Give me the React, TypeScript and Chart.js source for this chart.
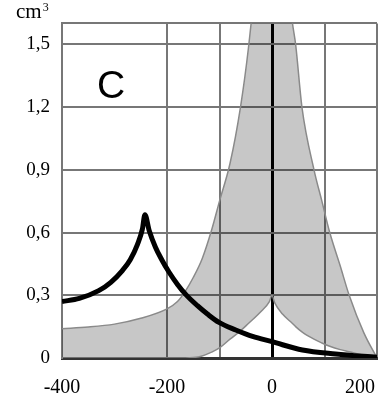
import React, { useEffect, useRef } from 'react';
import { Chart, registerables } from 'chart.js';

Chart.register(...registerables);

// x positions shared by the two gray boundary curves
const X_SHADE = [-400, -350, -300, -250, -200, -180, -165, -150, -133, -115, -100, -80, -60, -45, -20, -5, 0, 5, 20, 39, 45, 57, 80, 95, 110, 130, 147, 175, 200];
const UPPER = [0.14, 0.148, 0.162, 0.19, 0.235, 0.27, 0.32, 0.385, 0.475, 0.612, 0.75, 0.93, 1.2, 1.48, 2.1, 2.5, 2.6, 2.5, 2.0, 1.6, 1.5, 1.2, 0.9, 0.75, 0.6, 0.44, 0.3, 0.12, 0.0];
const LOWER = [0, 0, 0, 0, 0, 0, 0, 0.002, 0.01, 0.028, 0.048, 0.09, 0.13, 0.165, 0.225, 0.27, 0.3, 0.265, 0.21, 0.165, 0.15, 0.125, 0.09, 0.072, 0.056, 0.04, 0.03, 0.013, 0];

// black curve
const X_BLACK = [-400, -367, -330, -307, -285, -270, -256, -247, -242, -234, -222, -210, -196, -180, -164, -142, -123, -101, -69, -37, 0, 58, 121, 200];
const BLACK = [0.27, 0.285, 0.322, 0.362, 0.418, 0.47, 0.545, 0.615, 0.685, 0.61, 0.53, 0.47, 0.41, 0.352, 0.303, 0.25, 0.21, 0.17, 0.134, 0.103, 0.078, 0.038, 0.019, 0.003];

const X_GRID = [-400, -300, -200, -100, 0, 100, 200];
const X_TICKS = [-400, -200, 0, 200];
const X_LABELS = ['-400', '-200', '0', '200'];
const Y_TICKS = [0, 0.3, 0.6, 0.9, 1.2, 1.5];
const Y_LABELS = ['0', '0,3', '0,6', '0,9', '1,2', '1,5'];
const Y_MAX = 1.6;
const UNIT = 'cm';
const UNIT_SUP = '3';
const PANEL = 'C';

const SERIF = '"Liberation Serif", "Times New Roman", serif';
const SANS = '"Liberation Sans", Arial, sans-serif';

const overlay = {
  id: 'overlay',
  afterDraw(chart: any) {
    const ctx = chart.ctx;
    const xs = chart.scales.x;
    const area = chart.chartArea;
    ctx.save();
    ctx.fillStyle = '#000';
    ctx.font = '20px ' + SERIF;
    ctx.textBaseline = 'middle';
    ctx.textAlign = 'left';
    X_TICKS.forEach((v, i) => {
      const px = xs.getPixelForValue(v);
      const label = X_LABELS[i];
      const w = ctx.measureText(label).width;
      let left = px - w / 2;
      if (left + w > area.right - 2) left = area.right - 2 - w;
      ctx.fillText(label, left, area.bottom + 30);
    });
    ctx.textBaseline = 'alphabetic';
    ctx.font = '21px ' + SERIF;
    ctx.fillText(UNIT, 16, 18);
    const cmW = ctx.measureText(UNIT).width;
    ctx.font = '12px ' + SERIF;
    ctx.fillText(UNIT_SUP, 16 + cmW + 1, 11);
    ctx.font = '39px ' + SANS;
    ctx.fillText(PANEL, 97, 98);
    ctx.restore();
  },
};

export default function App() {
  const ref = useRef<HTMLCanvasElement>(null);
  useEffect(() => {
    document.body.style.margin = '0';
    if (!ref.current) return;
    const chart = new Chart(ref.current, {
      type: 'line',
      data: {
        datasets: [
          {
            data: X_BLACK.map((x, i) => ({ x, y: BLACK[i] })),
            borderColor: '#000',
            borderWidth: 5,
            pointRadius: 0,
            cubicInterpolationMode: 'monotone',
            borderJoinStyle: 'bevel',
            fill: false,
          },
          {
            data: X_SHADE.map((x, i) => ({ x, y: LOWER[i] })),
            borderColor: '#8a8a8a',
            borderWidth: 1.5,
            pointRadius: 0,
            cubicInterpolationMode: 'monotone',
            fill: false,
          },
          {
            data: X_SHADE.map((x, i) => ({ x, y: UPPER[i] })),
            borderColor: '#8a8a8a',
            borderWidth: 1.5,
            pointRadius: 0,
            cubicInterpolationMode: 'monotone',
            backgroundColor: 'rgba(0,0,0,0.22)',
            fill: 1,
          },
        ],
      } as any,
      options: {
        animation: false,
        responsive: false,
        devicePixelRatio: 1,
        layout: { padding: { top: 23, right: 12, left: 0, bottom: 0 } },
        plugins: { legend: { display: false }, tooltip: { enabled: false } },
        scales: {
          x: {
            type: 'linear',
            min: -400,
            max: 200,
            afterBuildTicks: (scale: any) => {
              scale.ticks = X_GRID.map((v) => ({ value: v }));
            },
            afterFit: (scale: any) => {
              scale.height = 42;
            },
            ticks: { display: false },
            grid: {
              drawTicks: false,
              color: (c: any) => (c.tick.value === 0 ? '#000' : c.tick.value === -300 ? 'rgba(0,0,0,0)' : '#777'),
              lineWidth: (c: any) => (c.tick.value === 0 ? 3 : 2),
            },
            border: { color: '#333', width: 3 },
          },
          y: {
            type: 'linear',
            min: 0,
            max: Y_MAX,
            afterBuildTicks: (scale: any) => {
              scale.ticks = [...Y_TICKS, Y_MAX].map((v) => ({ value: v }));
            },
            afterFit: (scale: any) => {
              scale.width = 62;
            },
            ticks: {
              color: '#000',
              padding: 12,
              font: { family: SERIF, size: 19 },
              callback: (_v: any, i: number) => (i < Y_LABELS.length ? Y_LABELS[i] : ''),
            },
            grid: { drawTicks: false, color: '#777', lineWidth: 2 },
            border: { color: '#777', width: 2 },
          },
        },
      } as any,
      plugins: [overlay],
    });
    return () => chart.destroy();
  }, []);
  return (
    <div style={{ width: 389, height: 400 }}>
      <canvas ref={ref} width={389} height={400} style={{ display: 'block' }} />
    </div>
  );
}
